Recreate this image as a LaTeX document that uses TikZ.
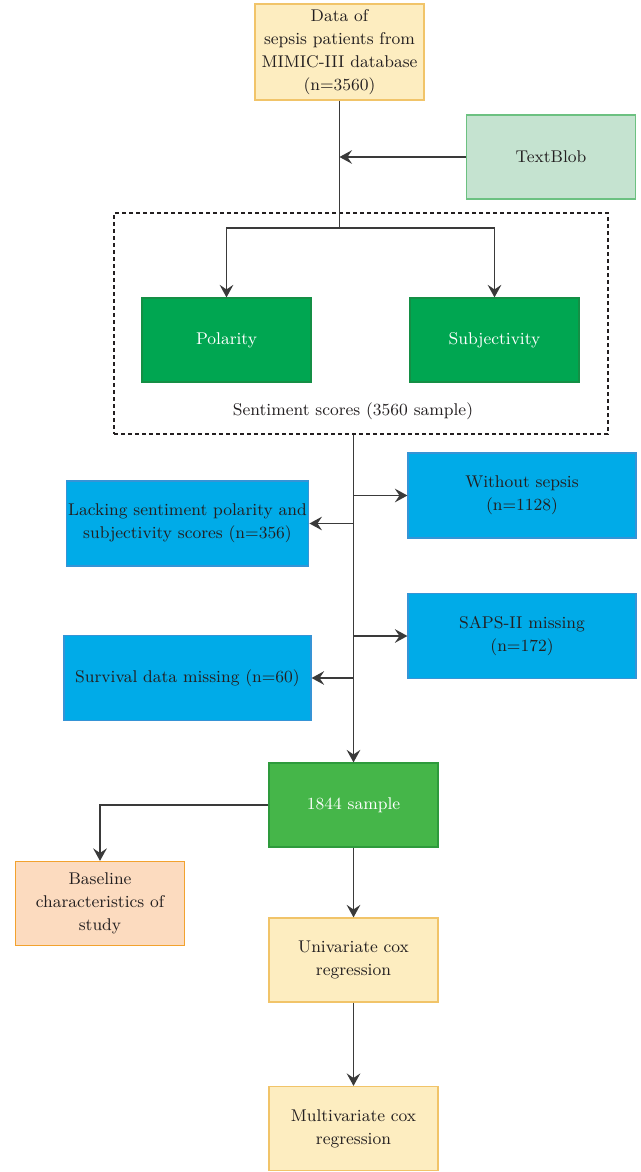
\documentclass[tikz,border=0pt]{standalone}
\usepackage{tikz}
\usetikzlibrary{arrows.meta,positioning,calc}
\definecolor{inkgray}{HTML}{231F20}
\definecolor{linegray}{HTML}{3A3A3A}
\definecolor{softyellow}{HTML}{FDEDC0}
\definecolor{yellowline}{HTML}{F1C469}
\definecolor{softmint}{HTML}{C5E3D0}
\definecolor{mintline}{HTML}{6CC181}
\definecolor{deepgreen}{HTML}{00A651}
\definecolor{deepgreenline}{HTML}{148F45}
\definecolor{leafgreen}{HTML}{45B649}
\definecolor{leafline}{HTML}{2E9A3C}
\definecolor{skyblue}{HTML}{00ABE8}
\definecolor{skyline}{HTML}{3594D6}
\definecolor{softpeach}{HTML}{FCDBBF}
\definecolor{peachline}{HTML}{F2A22E}

\begin{document}
\begin{tikzpicture}[x=0.5pt,y=-0.5pt,
  box/.style={line width=0.6pt,minimum width=84.5pt,minimum height=42pt,
    align=center,inner sep=1pt,font=\fontsize{8.5}{11.5}\selectfont,text=inkgray},
  note/.style={box,draw=yellowline,fill=softyellow},
  tool/.style={box,draw=mintline,fill=softmint},
  score/.style={box,draw=deepgreenline,fill=deepgreen,text=white},
  kept/.style={box,draw=leafline,fill=leafgreen,text=white},
  dropped/.style={box,draw=skyline,fill=skyblue,minimum height=42.5pt},
  outcome/.style={box,draw=peachline,fill=softpeach},
  arr/.style={-{Stealth[length=2.2mm,width=2.4mm,inset=0.8mm]},line width=0.7pt,linegray},
  plain/.style={line width=0.7pt,linegray}
]
  \useasboundingbox (0,0) rectangle (641,1172);

  \node[note,minimum height=48pt] (data) at (339.5,52)
    {Data of\\sepsis patients from\\MIMIC-III database\\(n=3560)};
  \node[tool] (blob) at (551,157) {TextBlob};

  % sentiment block
  \node[draw=inkgray,dash pattern=on 2pt off 1.5pt,line width=0.6pt,
    minimum width=247pt,minimum height=110.5pt] (frame) at (361,323.5) {};
  \node[score] (pol) at (226.5,340) {Polarity};
  \node[score] (subj) at (494.5,340) {Subjectivity};
  \node[font=\fontsize{8.5}{11.5}\selectfont,text=inkgray] (sent) at (353,411)
    {Sentiment scores (3560 sample)};

  \coordinate (split) at (data.south |- 0,228);
  \draw[plain] (data.south) -- (split);
  \draw[arr] (blob.west) -- (blob.west -| data.south);
  \draw[arr] (split) -| (pol.north);
  \draw[arr] (split) -| (subj.north);

  % exclusions
  \node[dropped,minimum width=114pt] (nosep) at (522,495.5)
    {Without sepsis\\(n=1128)};
  \node[dropped,minimum width=120.5pt] (lack) at (187.5,523.5)
    {Lacking sentiment polarity and\\subjectivity scores (n=356)};
  \node[dropped,minimum width=114pt] (saps) at (522,636)
    {SAPS-II missing\\(n=172)};
  \node[dropped,minimum width=123.5pt] (surv) at (187.5,678)
    {Survival data missing (n=60)};

  \node[kept] (sample) at (353.5,805) {1844 sample};
  \node[outcome] (base) at (100,903.5)
    {Baseline\\characteristics of\\study};
  \node[note] (uni) at (353.5,960) {Univariate cox\\regression};
  \node[note] (multi) at (353.5,1128.5) {Multivariate cox\\regression};

  \draw[arr] (sample.north |- frame.south) -- (sample.north);
  \draw[arr] (sample.north |- nosep.west) -- (nosep.west);
  \draw[arr] (sample.north |- lack.east) -- (lack.east);
  \draw[arr] (sample.north |- saps.west) -- (saps.west);
  \draw[arr] (sample.north |- surv.east) -- (surv.east);

  \draw[arr] (sample.west) -| (base.north);
  \draw[arr] (sample.south) -- (uni.north);
  \draw[arr] (uni.south) -- (multi.north);
\end{tikzpicture}
\end{document}
